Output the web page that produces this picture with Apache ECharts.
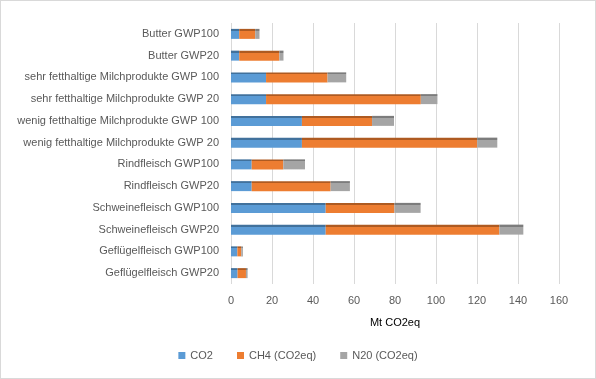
<!DOCTYPE html>
<html><head><meta charset="utf-8">
<script src="https://cdn.jsdelivr.net/npm/echarts@6/dist/echarts.min.js"></script>
<style>html,body{margin:0;padding:0;background:#fff}#c{width:594px;height:377px;border:1px solid #d9d9d9}</style>
</head><body><div id="c"></div>
<script>
const categories = ["Geflügelfleisch GWP20","Geflügelfleisch GWP100","Schweinefleisch GWP20","Schweinefleisch GWP100","Rindfleisch GWP20","Rindfleisch GWP100","wenig fetthaltige Milchprodukte GWP 20","wenig fetthaltige Milchprodukte GWP 100","sehr fetthaltige Milchprodukte GWP 20","sehr fetthaltige Milchprodukte GWP 100","Butter GWP20","Butter GWP100"];
const co2 = [3.2, 3.1, 46.2, 46.2, 10.1, 10.1, 34.6, 34.6, 17.1, 17.1, 4, 4];
const ch4 = [4.1, 1.9, 84.7, 33.5, 38.5, 15.4, 85.5, 34.2, 75.5, 30, 19.6, 7.8];
const n2o = [0.8, 0.8, 11.7, 12.8, 9.4, 10.6, 9.8, 10.7, 8.1, 9.1, 2, 2.1];
const xTicks = [0,20,40,60,80,100,120,140,160];
const seriesNames = ["CO2","CH4 (CO2eq)","N20 (CO2eq)"];
const colors = ["#5b9bd5","#ed7d31","#a5a5a5"];
const darkColors = ["#41719c","#ae5a21","#7c7c7c"];
const font = "Liberation Sans";
const chart = echarts.init(document.getElementById('c'));
const mk = (name, data, i) => ({
  name, type:'bar', stack:'t', data, barWidth:10,
  itemStyle:{color:{type:'linear',x:0,y:0,x2:0,y2:1,colorStops:[
    {offset:0,color:darkColors[i]},{offset:0.2,color:darkColors[i]},
    {offset:0.2,color:colors[i]},{offset:1,color:colors[i]}]}}
});
chart.setOption({
  animation:false,
  textStyle:{fontFamily:font},
  grid:{left:230, right:36, top:22, bottom:94},
  legend:{bottom:12, left:'center', itemWidth:7, itemHeight:7, itemGap:24,
    icon:'rect', textStyle:{color:'#595959', fontSize:11, fontFamily:font},
    data:seriesNames.map((n,i)=>({name:n, itemStyle:{color:colors[i]}}))},
  xAxis:{type:'value', min:0, max:160, interval:20,
    name:'Mt CO2eq', nameLocation:'middle', nameGap:33,
    nameTextStyle:{color:'#000', fontSize:11, fontFamily:font},
    axisLine:{show:false}, axisTick:{show:false},
    axisLabel:{color:'#595959', fontSize:11, fontFamily:font, margin:11,
      formatter:v=>xTicks.includes(v)?String(v):''},
    splitLine:{lineStyle:{color:'#d9d9d9'}}},
  yAxis:{type:'category', data:categories,
    axisLine:{show:false}, axisTick:{show:false},
    axisLabel:{color:'#595959', fontSize:11, fontFamily:font, margin:12}},
  series:[mk(seriesNames[0],co2,0), mk(seriesNames[1],ch4,1), mk(seriesNames[2],n2o,2)]
});
</script></body></html>
